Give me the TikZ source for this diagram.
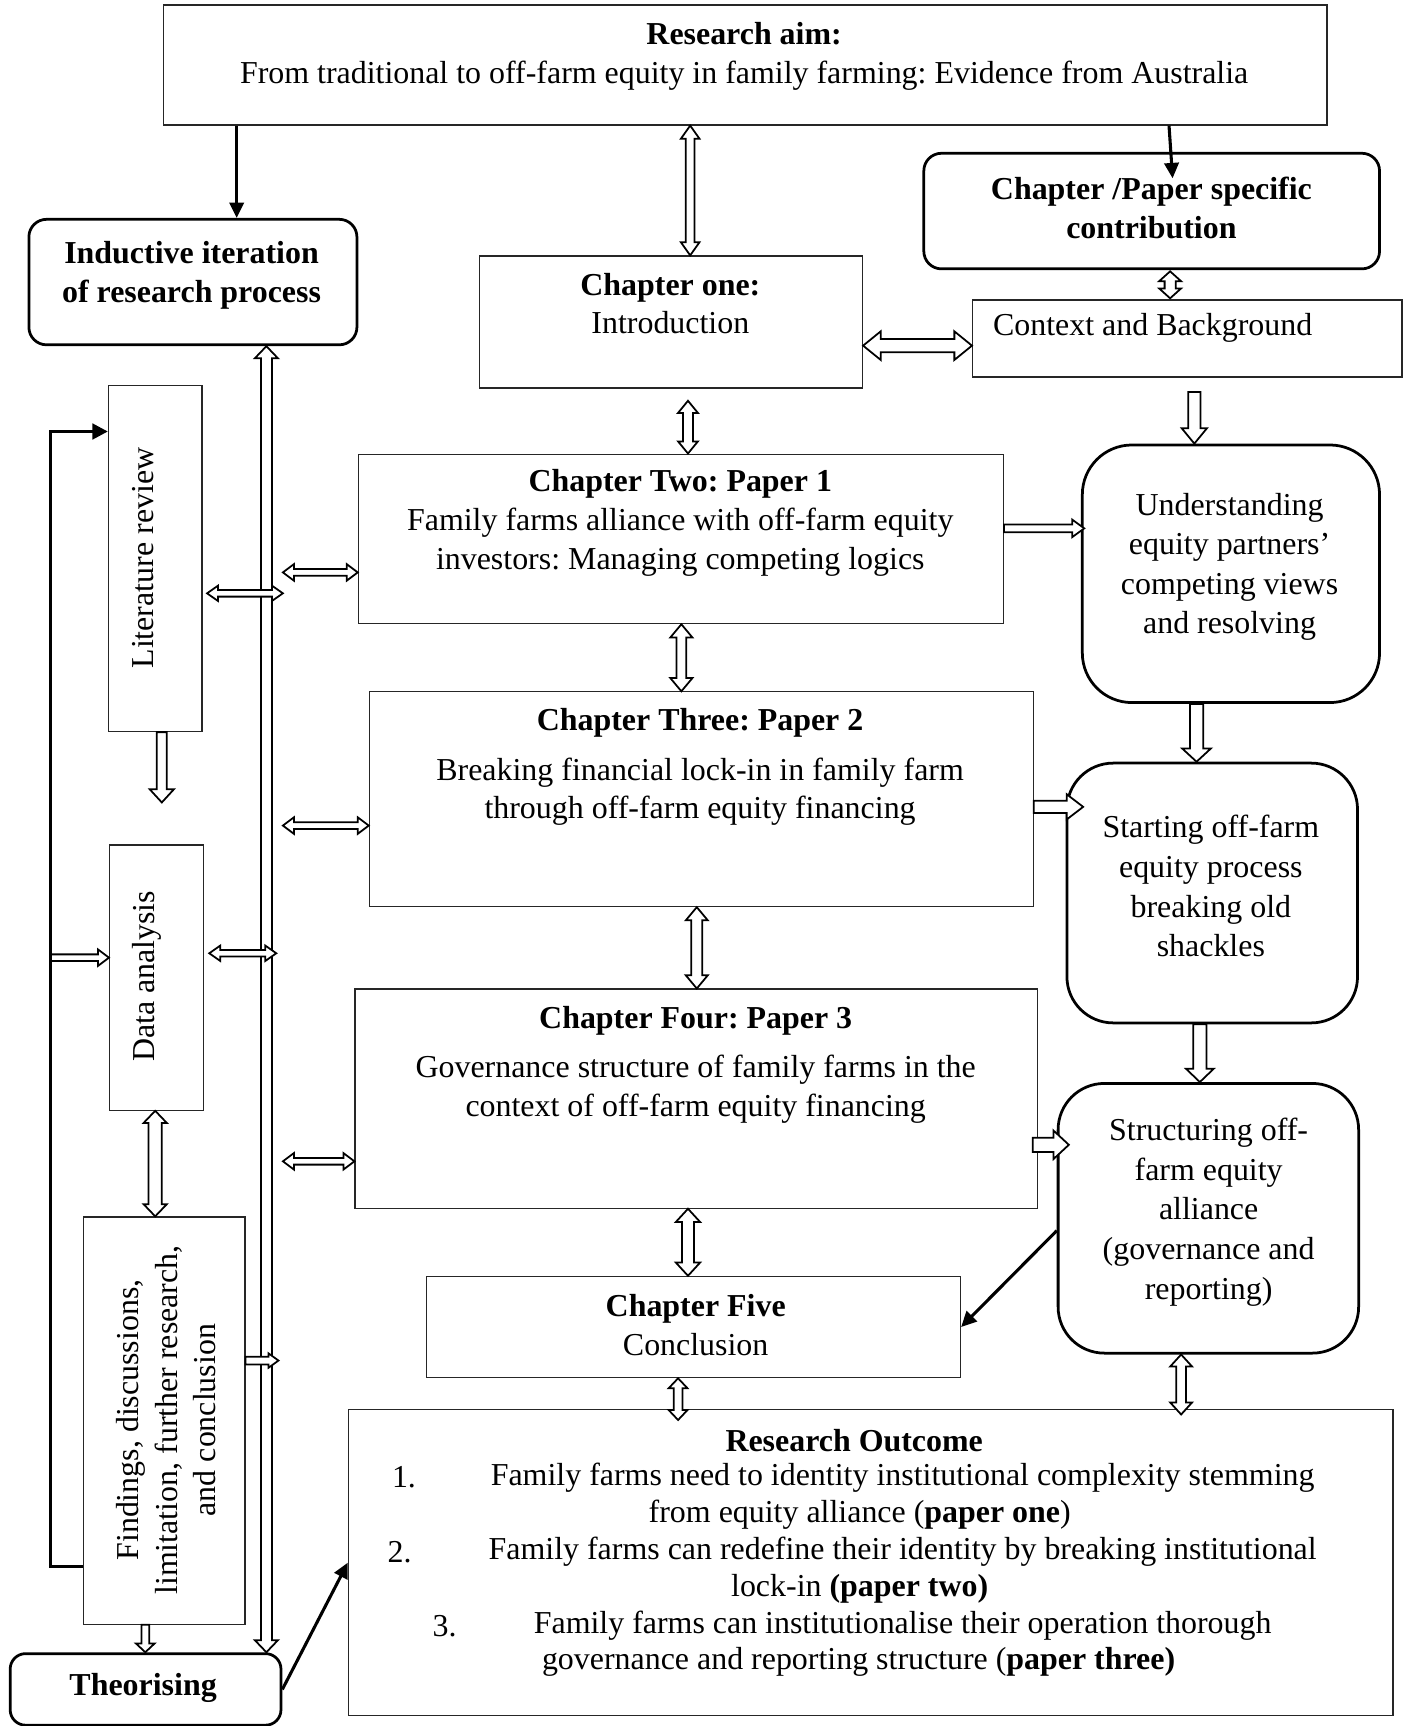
\documentclass[tikz,border=0pt]{standalone}
\usepackage{fontspec}
\setmainfont{Liberation Serif}
\usetikzlibrary{calc,arrows.meta}
\frenchspacing

\tikzset{
  plainbox/.style={draw=black!85, line width=1.1pt, inner sep=0pt, anchor=north west},
  roundbox/.style={draw, line width=2.5pt, inner sep=0pt, anchor=north west, rounded corners=#1},
  roundbox/.default=16pt,
  label text/.style={inner sep=0pt, align=center},
  wide text/.style={label text, font=\fontsize{29}{36}\selectfont},
  solid link/.style={line width=2.8pt, -{Triangle[length=14pt,width=13pt]}},
  hollow link/.style={draw=black, fill=white, line width=1.6pt, line join=miter},
}

% outline block arrow: from, to, shaft half-width, head half-width, head length
\newcommand\blkarrow[5]{%
  \coordinate (hA) at (#1);
  \coordinate (hB) at (#2);
  \coordinate (hN) at ($(hB)!#5!(hA)$);
  \draw[hollow link] ($(hA)!#3!90:(hB)$) -- ($(hN)!#3!90:(hB)$) -- ($(hN)!#4!90:(hB)$) -- (hB)
     -- ($(hN)!#4!-90:(hB)$) -- ($(hN)!#3!-90:(hB)$) -- ($(hA)!#3!-90:(hB)$) -- cycle;}

% outline block arrow with a head at both ends
\newcommand\dblkarrow[5]{%
  \coordinate (hA) at (#1);
  \coordinate (hB) at (#2);
  \coordinate (hM) at ($(hA)!#5!(hB)$);
  \coordinate (hN) at ($(hB)!#5!(hA)$);
  \draw[hollow link] (hA) -- ($(hM)!#4!90:(hB)$) -- ($(hM)!#3!90:(hB)$) -- ($(hN)!#3!90:(hB)$)
     -- ($(hN)!#4!90:(hB)$) -- (hB) -- ($(hN)!#4!-90:(hB)$) -- ($(hN)!#3!-90:(hB)$)
     -- ($(hM)!#3!-90:(hB)$) -- ($(hM)!#4!-90:(hB)$) -- cycle;}

\begin{document}
\begin{tikzpicture}[x=1pt, y=-1pt, font=\fontsize{29}{35}\selectfont]
\useasboundingbox (0,0) rectangle (1281,1568);

% ---------- boxes ----------
\node[plainbox, minimum width=1057pt, minimum height=109pt] (aim) at (148,4) {};
\node[roundbox, minimum width=298pt, minimum height=114pt] (ind) at (25,198) {};
\node[roundbox, minimum width=414pt, minimum height=105pt] (contr) at (838,138) {};
\node[plainbox, minimum width=348pt, minimum height=120pt] (ch1) at (435,232) {};
\node[plainbox, minimum width=390pt, minimum height=70pt] (ctx) at (883,272) {};
\node[roundbox=45pt, minimum width=270pt, minimum height=234pt] (und) at (982,403) {};
\node[plainbox, minimum width=586pt, minimum height=154pt] (ch2) at (325,412) {};
\node[plainbox, minimum width=603pt, minimum height=195pt] (ch3) at (335,628) {};
\node[roundbox=42pt, minimum width=264pt, minimum height=236pt] (start) at (968,692) {};
\node[plainbox, minimum width=620pt, minimum height=199pt] (ch4) at (322,898) {};
\node[roundbox=42pt, minimum width=273pt, minimum height=245pt] (struct) at (960,983) {};
\node[plainbox, minimum width=485pt, minimum height=92pt] (ch5) at (387,1159) {};
\node[plainbox, minimum width=949pt, minimum height=278pt] (out) at (316,1280) {};
\node[plainbox, minimum width=85pt, minimum height=314pt] (lit) at (98,350) {};
\node[plainbox, minimum width=85pt, minimum height=241pt] (data) at (99,767) {};
\node[plainbox, minimum width=147pt, minimum height=370pt] (find) at (75,1105) {};
\node[roundbox=14pt, minimum width=246pt, minimum height=65pt] (theo) at (8,1501) {};

% ---------- texts ----------
\node[label text] (aimt) at (676,51) {\textbf{Research aim:}\\From traditional to off-farm equity in family farming: Evidence from Australia};
\node[wide text, font=\fontsize{29}{36}\selectfont\bfseries] (indt) at (174,250) {Inductive iteration\\of research process};
\node[wide text, font=\fontsize{29}{36}\selectfont\bfseries] (contrt) at (1046,189) {Chapter /Paper specific\\contribution};
\node[label text] (ch1t) at (609,276) {\textbf{Chapter one:}\\Introduction};
\node[label text, anchor=west] (ctxt) at (902,298) {Context and Background};
\node[label text] (ch2t) at (618,475) {\textbf{Chapter Two: Paper 1}\\Family farms alliance with off-farm equity\\investors: Managing competing logics};
\node[label text] (ch3t) at (636,697) {\textbf{Chapter Three: Paper 2}\\[10pt]Breaking financial lock-in in family farm\\through off-farm equity financing};
\node[label text] (ch4t) at (632,967) {\textbf{Chapter Four: Paper 3}\\[10pt]Governance structure of family farms in the\\context of off-farm equity financing};
\node[label text] (ch5t) at (632,1204) {\textbf{Chapter Five}\\Conclusion};
\node[wide text] (undt) at (1117,515) {Understanding\\equity partners'\\competing views\\and resolving};
\node[wide text] (startt) at (1100,805) {Starting off-farm\\equity process\\breaking old\\shackles};
\node[wide text] (structt) at (1098,1101) {Structuring off-\\farm equity\\alliance\\(governance and\\reporting)};
\node[label text, rotate=90] (litt) at (130,507) {Literature review};
\node[label text, rotate=90] (datat) at (133,887) {Data analysis};
\node[label text, rotate=90] (findt) at (151,1290) {Findings, discussions,\\limitation, further research,\\and conclusion};
\node[label text, font=\fontsize{29}{35}\selectfont\bfseries] (theot) at (130,1533) {Theorising};

% research outcome list
\node[label text, font=\fontsize{29}{35}\selectfont\bfseries] (outt) at (776,1309) {Research Outcome};
\node[label text] (n1) at (367,1342) {1.};
\node[label text] (o1a) at (820,1342) {Family farms need to identity institutional complexity stemming};
\node[label text] (o1b) at (781,1376) {from equity alliance (\textbf{paper one})};
\node[label text] (n2) at (363,1410) {2.};
\node[label text] (o2a) at (820,1410) {Family farms can redefine their identity by breaking institutional};
\node[label text] (o2b) at (781,1443) {lock-in \textbf{(paper two)}};
\node[label text] (n3) at (404,1477) {3.};
\node[label text] (o3a) at (820,1477) {Family farms can institutionalise their operation thorough};
\node[label text] (o3b) at (780,1510) {governance and reporting structure (\textbf{paper three)}};

% ---------- outline arrows, central column ----------
\dblkarrow{aim.south -| 627,0}{ch1.north -| 627,0}{4pt}{8.5pt}{12pt}
\dblkarrow{$(contr.south -| 1063,0)+(0,1)$}{$(ctx.north -| 1063,0)+(0,-1)$}{5pt}{10pt}{9pt}
\dblkarrow{ch1.east |- 0,314}{ctx.west |- 0,314}{6pt}{13pt}{16pt}
\blkarrow{$(ctx.south -| 1085,0)+(0,13)$}{und.north -| 1085,0}{5.5pt}{11.5pt}{14pt}
\dblkarrow{$(ch1.south -| 625,0)+(0,11)$}{ch2.north -| 625,0}{4.5pt}{9pt}{11pt}
\blkarrow{ch2.east |- 0,480}{$(und.west |- 0,480)+(3,0)$}{3.5pt}{8pt}{11pt}
\dblkarrow{ch2.south -| 619,0}{ch3.north -| 619,0}{4.5pt}{10pt}{12pt}
\blkarrow{ch3.east |- 0,733}{$(start.west |- 0,733)+(16,0)$}{5.5pt}{11.5pt}{15pt}
\blkarrow{und.south -| 1087,0}{start.north -| 1087,0}{6pt}{13pt}{12pt}
\dblkarrow{ch3.south -| 633,0}{ch4.north -| 633,0}{5pt}{10pt}{12pt}
\blkarrow{$(ch4.east |- 0,1040)+(-5,0)$}{$(struct.west |- 0,1040)+(11,0)$}{6.5pt}{13pt}{14pt}
\blkarrow{start.south -| 1090,0}{struct.north -| 1090,0}{6pt}{12.5pt}{12pt}
\dblkarrow{ch4.south -| 625,0}{ch5.north -| 625,0}{5.5pt}{11pt}{12pt}
\dblkarrow{ch5.south -| 616,0}{$(out.north -| 616,0)+(0,10)$}{4pt}{8.5pt}{9pt}
\dblkarrow{struct.south -| 1073,0}{$(out.north -| 1073,0)+(0,5)$}{4.5pt}{10pt}{11pt}

% ---------- left column ----------
\coordinate (railR) at (257,0);
\coordinate (loopx) at (46,0);
\blkarrow{lit.south -| 147,0}{$(data.north -| 147,0)+(0,-38)$}{4.5pt}{11pt}{12pt}
\dblkarrow{data.south -| 141,0}{find.north -| 141,0}{6pt}{10.5pt}{11pt}
\blkarrow{find.south -| 132,0}{theo.north -| 132,0}{3.5pt}{8.5pt}{8pt}
\blkarrow{loopx |- 0,870}{data.west |- 0,870}{3pt}{7.5pt}{10pt}

% long two-way rail between the process steps
\dblkarrow{ind.south -| 242,0}{theo.north -| 242,0}{5pt}{10.5pt}{11pt}

\dblkarrow{$(lit.east |- 0,539)+(4,0)$}{railR |- 0,539}{3pt}{7pt}{10pt}
\dblkarrow{$(data.east |- 0,866)+(5,0)$}{$(railR |- 0,866)+(-6,0)$}{3pt}{7pt}{10pt}
\blkarrow{find.east |- 0,1236}{$(railR |- 0,1236)+(-4,0)$}{3.5pt}{6.5pt}{9pt}
\dblkarrow{railR |- 0,520}{ch2.west |- 0,520}{3pt}{7.5pt}{10pt}
\dblkarrow{railR |- 0,750}{ch3.west |- 0,750}{3pt}{7.5pt}{10pt}
\dblkarrow{railR |- 0,1055}{ch4.west |- 0,1055}{3pt}{7.5pt}{10pt}

% ---------- solid arrows ----------
\draw[solid link] (aim.south -| 215,0) -- (ind.north -| 215,0);
\draw[solid link] (aim.south -| 1062,0) -- ($(contr.north)+(19,24)$);
\draw[solid link] (struct.west |- 0,1118) -- (ch5.east);
\draw[solid link] (theo.east) -- (out.west);
\draw[line width=3pt, -{Triangle[length=14pt,width=14pt]}]
  (find.west |- 0,1423) -- (loopx |- 0,1423) -- (loopx |- 0,392) -- (lit.west |- 0,392);
\end{tikzpicture}
\end{document}
